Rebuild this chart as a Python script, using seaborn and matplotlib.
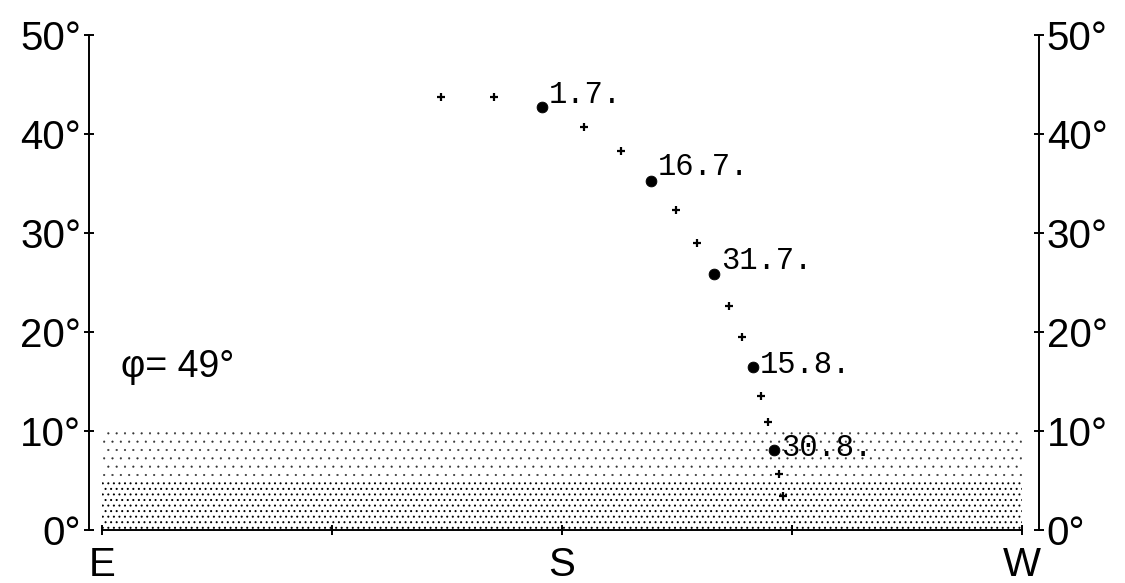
import seaborn as sns
import matplotlib.pyplot as plt
import pandas as pd

# sun path points every 5 days (azimuth in degrees, E=90, S=180, W=270)
azimuth = [156.3, 166.7, 176.0, 184.3, 191.5, 197.4, 202.3, 206.4, 209.7,
           212.7, 215.2, 217.3, 219.0, 220.3, 221.5, 222.4, 223.2]
altitude = [43.7, 43.7, 42.7, 40.7, 38.3, 35.3, 32.3, 29.0, 25.9,
            22.6, 19.5, 16.5, 13.5, 10.9, 8.1, 5.7, 3.4]
date_labels = ['', '', '1.7.', '', '', '16.7.', '', '', '31.7.',
               '', '', '15.8.', '', '', '30.8.', '', '']

x_ticks = [90, 135, 180, 225, 270]
x_tick_labels = ['E', '', 'S', '', 'W']
y_ticks = [0, 10, 20, 30, 40, 50]
latitude_text = 'φ= 49°'

df = pd.DataFrame({'az': azimuth, 'alt': altitude, 'label': date_labels})
marked = df[df['label'] != '']
other = df[df['label'] == '']

sns.set_style("ticks")
plt.rcParams['font.family'] = ['Liberation Sans', 'DejaVu Sans']
for key in ['text.color', 'xtick.color', 'ytick.color', 'axes.labelcolor']:
    plt.rcParams[key] = 'black'

fig = plt.figure(figsize=(11.25, 5.83), dpi=100)
ax = fig.add_axes([0.0791, 0.0909, 0.8445, 0.8491])

# stippled horizon band: denser below 5 deg, sparse 5-10 deg
with plt.rc_context({'hatch.linewidth': 0.7}):
    ax.fill_between([90, 270], 0, 5, hatch='...', facecolor='none', edgecolor='black', linewidth=0)
with plt.rc_context({'hatch.linewidth': 0.3}):
    ax.fill_between([90, 270], 5, 10, hatch='..', facecolor='none', edgecolor='0.2', linewidth=0)

sns.scatterplot(data=other, x='az', y='alt', marker='+', color='black', s=40, linewidth=1.6, ax=ax)
sns.scatterplot(data=marked, x='az', y='alt', marker='o', color='black', s=60, edgecolor='black', ax=ax)

label_dy = [9, 10, 9, 1, 1]  # points, label offset above the dot
for (i, row), dy in zip(marked.iterrows(), label_dy):
    ax.annotate(row['label'], (row['az'], row['alt']), xytext=(5, dy), textcoords='offset points',
                ha='left', va='center', family='Liberation Mono', fontsize=22, color='black')

ax.text(93.7, 16.5, latitude_text, fontsize=27, ha='left', va='center')

ax.set_xlim(87.46, 273.33)
ax.set_ylim(0, 50)
ax.set_xticks(x_ticks)
ax.set_xticklabels(x_tick_labels)
ax.set_yticks(y_ticks)
ax.set_yticklabels([f'{t}°' for t in y_ticks])
ax.set_xlabel('')
ax.set_ylabel('')

for side in ['left', 'right', 'bottom']:
    ax.spines[side].set_linewidth(1.4)
    ax.spines[side].set_color('black')
ax.spines['top'].set_visible(False)
ax.spines['bottom'].set_bounds(90, 270)

ax.tick_params(axis='y', which='both', direction='inout', length=7, width=1.4,
               left=True, right=True, labelleft=True, labelright=True, labelsize=29, pad=2)
ax.tick_params(axis='x', direction='inout', length=7, width=1.4, labelsize=29, pad=8)

plt.savefig('out.png', dpi=100)
